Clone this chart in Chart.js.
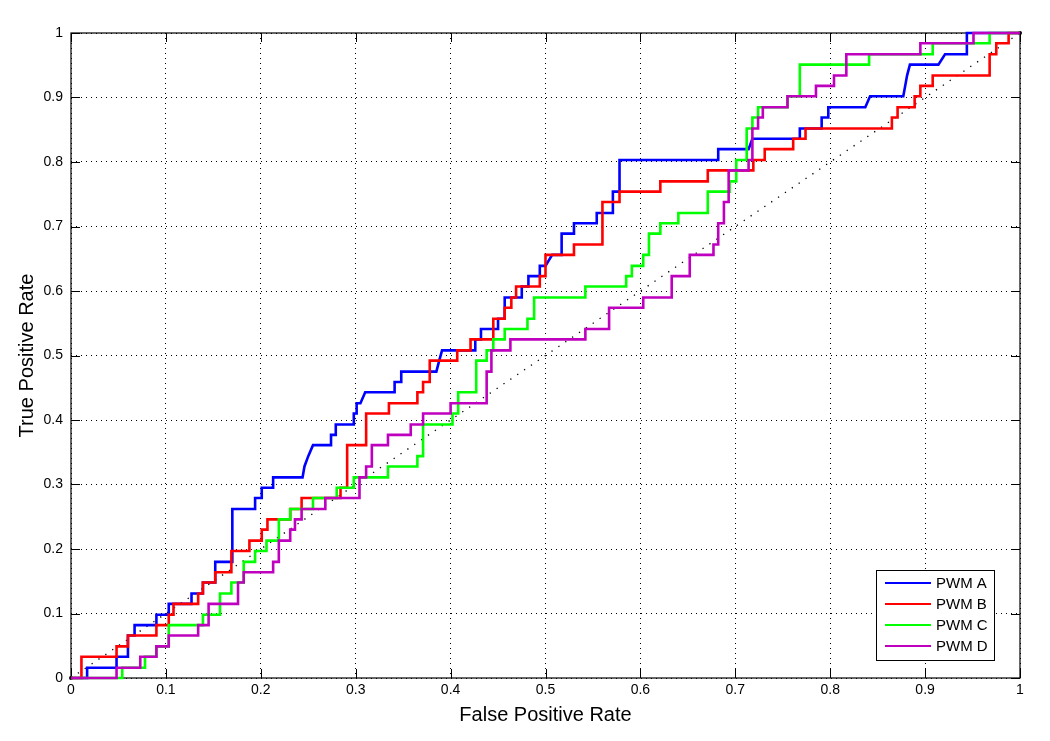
<!DOCTYPE html>
<html>
<head>
<meta charset="utf-8">
<script src="https://cdn.jsdelivr.net/npm/chart.js@4/dist/chart.umd.min.js"></script>
<style>
    html, body { margin: 0; padding: 0; background: #fff; }
    canvas { display: block; }
</style>
</head>
<body>
<canvas id="rocChart" width="1050" height="741"></canvas>
<script>
// ROC curves, corners of each step (false positive rate, true positive rate)
const seriesNames = ['PWM A', 'PWM B', 'PWM C', 'PWM D'];
const seriesColors = ['#0000ff', '#ff0000', '#00ff00', '#bf00bf'];
const axisTicks = [0, 0.1, 0.2, 0.3, 0.4, 0.5, 0.6, 0.7, 0.8, 0.9, 1];

const fprA = [0, 0.017, 0.017, 0.048, 0.048, 0.060, 0.060, 0.067, 0.067, 0.090, 0.090, 0.103, 0.103, 0.127, 0.127, 0.139, 0.139, 0.152, 0.152, 0.170, 0.170, 0.194, 0.194, 0.201, 0.201, 0.213, 0.213, 0.244, 0.246, 0.250, 0.255, 0.274, 0.274, 0.279, 0.279, 0.298, 0.298, 0.301, 0.301, 0.305, 0.310, 0.341, 0.341, 0.348, 0.348, 0.385, 0.388, 0.391, 0.426, 0.426, 0.432, 0.432, 0.450, 0.450, 0.457, 0.457, 0.475, 0.475, 0.482, 0.482, 0.494, 0.494, 0.500, 0.507, 0.517, 0.517, 0.530, 0.530, 0.554, 0.554, 0.571, 0.571, 0.578, 0.578, 0.682, 0.682, 0.714, 0.718, 0.768, 0.768, 0.791, 0.791, 0.798, 0.798, 0.837, 0.842, 0.877, 0.879, 0.881, 0.884, 0.914, 0.921, 0.944, 0.944, 1];
const tprA = [0, 0, 0.016, 0.016, 0.033, 0.033, 0.066, 0.066, 0.082, 0.082, 0.098, 0.098, 0.115, 0.115, 0.131, 0.131, 0.148, 0.148, 0.180, 0.180, 0.262, 0.262, 0.279, 0.279, 0.295, 0.295, 0.311, 0.311, 0.328, 0.344, 0.361, 0.361, 0.377, 0.377, 0.393, 0.393, 0.410, 0.410, 0.426, 0.426, 0.443, 0.443, 0.459, 0.459, 0.475, 0.475, 0.492, 0.508, 0.508, 0.525, 0.525, 0.541, 0.541, 0.557, 0.557, 0.590, 0.590, 0.607, 0.607, 0.623, 0.623, 0.639, 0.639, 0.656, 0.656, 0.689, 0.689, 0.705, 0.705, 0.721, 0.721, 0.754, 0.754, 0.803, 0.803, 0.820, 0.820, 0.836, 0.836, 0.852, 0.852, 0.869, 0.869, 0.885, 0.885, 0.902, 0.902, 0.918, 0.934, 0.951, 0.951, 0.967, 0.967, 1, 1];

const fprB = [0, 0.011, 0.011, 0.048, 0.048, 0.060, 0.060, 0.090, 0.090, 0.103, 0.103, 0.108, 0.108, 0.134, 0.134, 0.139, 0.139, 0.152, 0.152, 0.169, 0.169, 0.188, 0.188, 0.201, 0.201, 0.207, 0.207, 0.231, 0.231, 0.243, 0.243, 0.284, 0.284, 0.291, 0.291, 0.311, 0.311, 0.335, 0.335, 0.365, 0.365, 0.371, 0.371, 0.378, 0.378, 0.407, 0.407, 0.421, 0.421, 0.445, 0.445, 0.457, 0.457, 0.464, 0.464, 0.469, 0.469, 0.494, 0.494, 0.500, 0.500, 0.530, 0.530, 0.560, 0.560, 0.578, 0.578, 0.621, 0.621, 0.671, 0.671, 0.719, 0.719, 0.731, 0.731, 0.761, 0.761, 0.774, 0.774, 0.865, 0.865, 0.871, 0.871, 0.889, 0.889, 0.895, 0.895, 0.908, 0.908, 0.968, 0.968, 0.975, 0.975, 0.988, 0.988, 1];
const tprB = [0, 0, 0.033, 0.033, 0.049, 0.049, 0.066, 0.066, 0.082, 0.082, 0.098, 0.098, 0.115, 0.115, 0.131, 0.131, 0.148, 0.148, 0.164, 0.164, 0.197, 0.197, 0.213, 0.213, 0.230, 0.230, 0.246, 0.246, 0.262, 0.262, 0.279, 0.279, 0.295, 0.295, 0.361, 0.361, 0.410, 0.410, 0.426, 0.426, 0.443, 0.443, 0.459, 0.459, 0.492, 0.492, 0.508, 0.508, 0.525, 0.525, 0.557, 0.557, 0.574, 0.574, 0.590, 0.590, 0.607, 0.607, 0.623, 0.623, 0.656, 0.656, 0.672, 0.672, 0.738, 0.738, 0.754, 0.754, 0.770, 0.770, 0.787, 0.787, 0.803, 0.803, 0.820, 0.820, 0.836, 0.836, 0.852, 0.852, 0.869, 0.869, 0.885, 0.885, 0.902, 0.902, 0.918, 0.918, 0.934, 0.934, 0.967, 0.967, 0.984, 0.984, 1, 1];

const fprC = [0, 0.054, 0.054, 0.078, 0.078, 0.090, 0.090, 0.103, 0.103, 0.139, 0.139, 0.157, 0.157, 0.169, 0.169, 0.182, 0.182, 0.194, 0.194, 0.206, 0.206, 0.219, 0.219, 0.231, 0.231, 0.255, 0.255, 0.280, 0.280, 0.298, 0.298, 0.334, 0.334, 0.365, 0.365, 0.371, 0.371, 0.402, 0.402, 0.408, 0.408, 0.427, 0.427, 0.438, 0.438, 0.445, 0.445, 0.457, 0.457, 0.481, 0.481, 0.488, 0.488, 0.542, 0.542, 0.585, 0.585, 0.591, 0.591, 0.603, 0.603, 0.609, 0.609, 0.621, 0.621, 0.640, 0.640, 0.671, 0.671, 0.694, 0.694, 0.701, 0.701, 0.712, 0.712, 0.718, 0.718, 0.724, 0.724, 0.755, 0.755, 0.768, 0.768, 0.841, 0.841, 0.908, 0.908, 0.968, 0.968, 1];
const tprC = [0, 0, 0.016, 0.016, 0.033, 0.033, 0.049, 0.049, 0.082, 0.082, 0.098, 0.098, 0.131, 0.131, 0.148, 0.148, 0.180, 0.180, 0.197, 0.197, 0.213, 0.213, 0.246, 0.246, 0.262, 0.262, 0.279, 0.279, 0.295, 0.295, 0.311, 0.311, 0.328, 0.328, 0.344, 0.344, 0.393, 0.393, 0.410, 0.410, 0.443, 0.443, 0.492, 0.492, 0.508, 0.508, 0.525, 0.525, 0.541, 0.541, 0.557, 0.557, 0.590, 0.590, 0.607, 0.607, 0.623, 0.623, 0.639, 0.639, 0.656, 0.656, 0.689, 0.689, 0.705, 0.705, 0.721, 0.721, 0.754, 0.754, 0.770, 0.770, 0.803, 0.803, 0.852, 0.852, 0.869, 0.869, 0.885, 0.885, 0.902, 0.902, 0.951, 0.951, 0.967, 0.967, 0.984, 0.984, 1, 1];

const fprD = [0, 0.048, 0.048, 0.073, 0.073, 0.090, 0.090, 0.103, 0.103, 0.134, 0.134, 0.145, 0.145, 0.176, 0.176, 0.182, 0.182, 0.213, 0.213, 0.219, 0.219, 0.231, 0.231, 0.236, 0.236, 0.243, 0.243, 0.268, 0.268, 0.304, 0.304, 0.311, 0.311, 0.317, 0.317, 0.334, 0.334, 0.358, 0.358, 0.371, 0.371, 0.400, 0.400, 0.438, 0.438, 0.443, 0.443, 0.463, 0.463, 0.542, 0.542, 0.567, 0.567, 0.603, 0.603, 0.633, 0.633, 0.652, 0.652, 0.677, 0.677, 0.682, 0.682, 0.688, 0.688, 0.693, 0.693, 0.714, 0.714, 0.718, 0.718, 0.724, 0.724, 0.729, 0.729, 0.755, 0.755, 0.785, 0.785, 0.804, 0.804, 0.817, 0.817, 0.895, 0.895, 0.951, 0.951, 1];
const tprD = [0, 0, 0.016, 0.016, 0.033, 0.033, 0.049, 0.049, 0.066, 0.066, 0.082, 0.082, 0.115, 0.115, 0.148, 0.148, 0.164, 0.164, 0.180, 0.180, 0.213, 0.213, 0.230, 0.230, 0.246, 0.246, 0.262, 0.262, 0.279, 0.279, 0.311, 0.311, 0.328, 0.328, 0.361, 0.361, 0.377, 0.377, 0.393, 0.393, 0.410, 0.410, 0.426, 0.426, 0.475, 0.475, 0.508, 0.508, 0.525, 0.525, 0.541, 0.541, 0.574, 0.574, 0.590, 0.590, 0.623, 0.623, 0.656, 0.656, 0.672, 0.672, 0.705, 0.705, 0.738, 0.738, 0.787, 0.787, 0.803, 0.803, 0.852, 0.852, 0.869, 0.869, 0.885, 0.885, 0.902, 0.902, 0.918, 0.918, 0.934, 0.934, 0.967, 0.967, 0.984, 0.984, 1, 1];

const chanceFpr = [0, 1];
const chanceTpr = [0, 1];

const FONT = "'Liberation Sans', Arial, Helvetica, sans-serif";

function toPoints(xs, ys) {
    return xs.map((x, i) => ({ x: x, y: ys[i] }));
}

function tickText(v) {
    return String(Math.round(v * 10) / 10);
}

// MATLAB style frame with inward ticks on all four sides
const framePlugin = {
    id: 'frame',
    beforeDatasetsDraw(chart) {
        const { ctx, chartArea: a, scales } = chart;
        ctx.save();
        ctx.strokeStyle = '#000';
        ctx.lineWidth = 1;
        ctx.beginPath();
        axisTicks.forEach(t => {
            const px = Math.round(scales.x.getPixelForValue(t)) + 0.5;
            const py = Math.round(scales.y.getPixelForValue(t)) + 0.5;
            ctx.moveTo(px, a.bottom); ctx.lineTo(px, a.bottom - 9);
            ctx.moveTo(px, a.top); ctx.lineTo(px, a.top + 9);
            ctx.moveTo(a.left, py); ctx.lineTo(a.left + 9, py);
            ctx.moveTo(a.right, py); ctx.lineTo(a.right - 9, py);
        });
        ctx.stroke();
        ctx.lineWidth = 1.2;
        ctx.strokeRect(a.left, a.top, a.right - a.left, a.bottom - a.top);
        ctx.restore();
    }
};

// legend box inside the lower right corner of the axes
const boxLegendPlugin = {
    id: 'boxLegend',
    afterDatasetsDraw(chart) {
        const { ctx, chartArea: a } = chart;
        const w = 118, h = 90;
        const x0 = a.right - 26 - w, y0 = a.bottom - 18 - h;
        ctx.save();
        ctx.fillStyle = '#fff';
        ctx.fillRect(x0, y0, w, h);
        ctx.strokeStyle = '#000';
        ctx.lineWidth = 1;
        ctx.strokeRect(x0 + 0.5, y0 + 0.5, w, h);
        ctx.font = '15px ' + FONT;
        ctx.textBaseline = 'middle';
        ctx.textAlign = 'left';
        seriesNames.forEach((name, i) => {
            const y = y0 + 13 + i * 21;
            ctx.strokeStyle = seriesColors[i];
            ctx.lineWidth = 2;
            ctx.beginPath();
            ctx.moveTo(x0 + 9, y);
            ctx.lineTo(x0 + 55, y);
            ctx.stroke();
            ctx.fillStyle = '#000';
            ctx.fillText(name, x0 + 60, y + 1);
        });
        ctx.restore();
    }
};

const seriesFpr = [fprA, fprB, fprC, fprD];
const seriesTpr = [tprA, tprB, tprC, tprD];

const datasets = seriesNames.map((name, i) => ({
    label: name,
    data: toPoints(seriesFpr[i], seriesTpr[i]),
    borderColor: seriesColors[i],
    borderWidth: 2.6,
    pointRadius: 0,
    fill: false,
    tension: 0,
    clip: false,
    order: 4 - i
}));

datasets.push({
    label: 'chance',
    data: toPoints(chanceFpr, chanceTpr),
    borderColor: '#000',
    borderWidth: 1.3,
    borderDash: [1.3, 7],
    pointRadius: 2,
    pointBackgroundColor: '#000',
    pointBorderWidth: 0,
    fill: false,
    clip: false,
    order: 10
});

const scaleTicks = {
    min: 0,
    max: 1,
    type: 'linear'
};

new Chart(document.getElementById('rocChart'), {
    type: 'scatter',
    data: { datasets: datasets },
    options: {
        responsive: false,
        animation: false,
        devicePixelRatio: 1,
        showLine: true,
        layout: { padding: { left: 0, top: 33, right: 30, bottom: 0 } },
        plugins: {
            legend: { display: false },
            tooltip: { enabled: false }
        },
        scales: {
            x: {
                ...scaleTicks,
                position: 'bottom',
                afterFit: s => { s.height = 63; },
                grid: { color: '#000', lineWidth: 1, drawTicks: false },
                border: { display: false, dash: [1, 4] },
                ticks: {
                    stepSize: 0.1,
                    autoSkip: false,
                    maxRotation: 0,
                    padding: 4,
                    color: '#000',
                    font: { family: FONT, size: 14 },
                    callback: tickText
                },
                title: {
                    display: true,
                    text: 'False Positive Rate',
                    color: '#000',
                    font: { family: FONT, size: 20 },
                    padding: { top: 0, bottom: 14 }
                }
            },
            y: {
                ...scaleTicks,
                position: 'left',
                afterFit: s => { s.width = 71; },
                grid: { color: '#000', lineWidth: 1, drawTicks: false },
                border: { display: false, dash: [1, 4] },
                ticks: {
                    stepSize: 0.1,
                    autoSkip: false,
                    padding: 8,
                    color: '#000',
                    font: { family: FONT, size: 14 },
                    callback: tickText
                },
                title: {
                    display: true,
                    text: 'True Positive Rate',
                    color: '#000',
                    font: { family: FONT, size: 20 },
                    padding: { top: 15, bottom: 0 }
                }
            }
        }
    },
    plugins: [framePlugin, boxLegendPlugin]
});
</script>
</body>
</html>
